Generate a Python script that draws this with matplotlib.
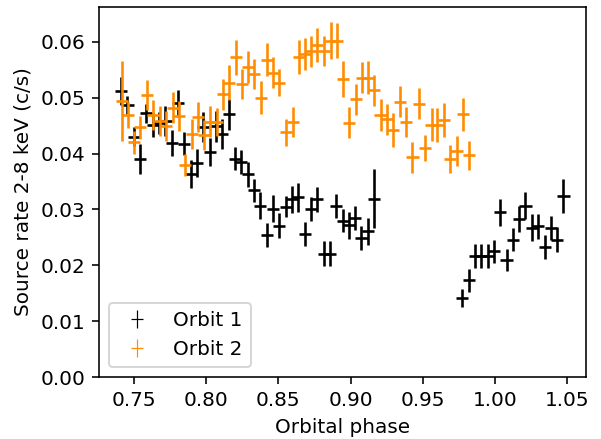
import matplotlib
matplotlib.use("Agg")
import matplotlib.pyplot as plt
from matplotlib.container import ErrorbarContainer
from matplotlib.legend_handler import HandlerErrorbar
from matplotlib.collections import LineCollection

# Orbit 1 (black)
phase1 = [0.7412, 0.7456, 0.7500, 0.7543, 0.7587, 0.7631, 0.7675, 0.7719, 0.7762, 0.7806,
          0.7850, 0.7894, 0.7938, 0.7981, 0.8025, 0.8069, 0.8113, 0.8157, 0.8200, 0.8244,
          0.8288, 0.8332, 0.8376, 0.8419, 0.8463, 0.8507, 0.8551, 0.8595, 0.8638, 0.8682,
          0.8726, 0.8770, 0.8814, 0.8857, 0.8901, 0.8945, 0.8989, 0.9033, 0.9076, 0.9120,
          0.9164,
          0.9773, 0.9819, 0.9860, 0.9904, 0.9950, 0.9992, 1.0035, 1.0080, 1.0123, 1.0167,
          1.0211, 1.0255, 1.0298, 1.0344, 1.0386, 1.0430, 1.0474]
rate1 = [0.0512, 0.0487, 0.0430, 0.0391, 0.0472, 0.0451, 0.0455, 0.0458, 0.0419, 0.0490,
         0.0418, 0.0364, 0.0383, 0.0447, 0.0403, 0.0449, 0.0435, 0.0470, 0.0391, 0.0385,
         0.0363, 0.0334, 0.0307, 0.0254, 0.0301, 0.0271, 0.0305, 0.0318, 0.0322, 0.0256,
         0.0301, 0.0318, 0.0221, 0.0221, 0.0306, 0.0280, 0.0272, 0.0285, 0.0249, 0.0261,
         0.0319,
         0.0141, 0.0173, 0.0217, 0.0217, 0.0217, 0.0225, 0.0295, 0.0210, 0.0246, 0.0283,
         0.0307, 0.0267, 0.0270, 0.0233, 0.0267, 0.0246, 0.0324]
err1 = [0.0025, 0.0016, 0.0017, 0.0027, 0.0017, 0.0021, 0.0020, 0.0027, 0.0023, 0.0024,
        0.0021, 0.0025, 0.0025, 0.0027, 0.0025, 0.0028, 0.0027, 0.0028, 0.0021, 0.0021,
        0.0022, 0.0021, 0.0024, 0.0022, 0.0024, 0.0022, 0.0019, 0.0024, 0.0026, 0.0022,
        0.0021, 0.0023, 0.0022, 0.0022, 0.0021, 0.0020, 0.0024, 0.0022, 0.0022, 0.0024,
        0.0053,
        0.0016, 0.0020, 0.0022, 0.0022, 0.0021, 0.0021, 0.0024, 0.0020, 0.0020, 0.0024,
        0.0024, 0.0024, 0.0022, 0.0022, 0.0022, 0.0022, 0.0030]

# Orbit 2 (orange)
phase2 = [0.7417, 0.7459, 0.7504, 0.7544, 0.7590, 0.7636, 0.7682, 0.7723, 0.7770, 0.7811,
          0.7855, 0.7901, 0.7943, 0.7988, 0.8028, 0.8074, 0.8120, 0.8161, 0.8205, 0.8247,
          0.8293, 0.8330, 0.8378, 0.8420, 0.8466, 0.8507, 0.8555, 0.8600, 0.8645, 0.8685,
          0.8724, 0.8766, 0.8816, 0.8862, 0.8904, 0.8945, 0.8991, 0.9035, 0.9081, 0.9122,
          0.9164, 0.9208, 0.9254, 0.9297, 0.9341, 0.9385, 0.9429, 0.9473, 0.9515, 0.9561,
          0.9602, 0.9647, 0.9690, 0.9734, 0.9777, 0.9821]
rate2 = [0.0494, 0.0469, 0.0420, 0.0447, 0.0505, 0.0469, 0.0458, 0.0449, 0.0482, 0.0467,
         0.0379, 0.0435, 0.0466, 0.0433, 0.0457, 0.0457, 0.0506, 0.0527, 0.0572, 0.0524,
         0.0555, 0.0543, 0.0500, 0.0568, 0.0545, 0.0527, 0.0438, 0.0457, 0.0573, 0.0578,
         0.0583, 0.0594, 0.0583, 0.0602, 0.0602, 0.0533, 0.0455, 0.0497, 0.0536, 0.0536,
         0.0513, 0.0469, 0.0461, 0.0442, 0.0493, 0.0457, 0.0393, 0.0489, 0.0410, 0.0452,
         0.0451, 0.0460, 0.0390, 0.0404, 0.0470, 0.0397]
err2 = [0.0071, 0.0024, 0.0021, 0.0021, 0.0027, 0.0027, 0.0027, 0.0027, 0.0028, 0.0027,
        0.0020, 0.0027, 0.0027, 0.0027, 0.0028, 0.0025, 0.0028, 0.0031, 0.0032, 0.0027,
        0.0028, 0.0027, 0.0030, 0.0030, 0.0027, 0.0024, 0.0024, 0.0027, 0.0030, 0.0028,
        0.0028, 0.0030, 0.0027, 0.0033, 0.0031, 0.0032, 0.0028, 0.0028, 0.0028, 0.0029,
        0.0028, 0.0028, 0.0028, 0.0030, 0.0028, 0.0027, 0.0027, 0.0028, 0.0024, 0.0030,
        0.0030, 0.0030, 0.0025, 0.0027, 0.0030, 0.0026]

bin_half = 0.0042

DPI = 144
fig, ax = plt.subplots(figsize=(601 / DPI, 439 / DPI), dpi=DPI)
fig.subplots_adjust(left=0.165, right=0.975, top=0.985, bottom=0.141)

ax.errorbar(phase1, rate1, xerr=bin_half, yerr=err1, fmt='none', ecolor='k',
            elinewidth=1.3, label='Orbit 1')
ax.errorbar(phase2, rate2, xerr=bin_half, yerr=err2, fmt='none', ecolor='darkorange',
            elinewidth=1.3, label='Orbit 2')

ax.set_xlim(0.726, 1.063)
ax.set_ylim(0, 0.0663)
ax.set_xlabel('Orbital phase')
ax.set_ylabel('Source rate 2-8 keV (c/s)')
leg = ax.legend(loc='lower left',
                handler_map={ErrorbarContainer: HandlerErrorbar(xerr_size=0.3, yerr_size=0.45)})
# thinner crosses in the legend
for lc in leg.findobj(LineCollection):
    lc.set_linewidth(0.6)

plt.savefig('out.png', dpi=DPI)
